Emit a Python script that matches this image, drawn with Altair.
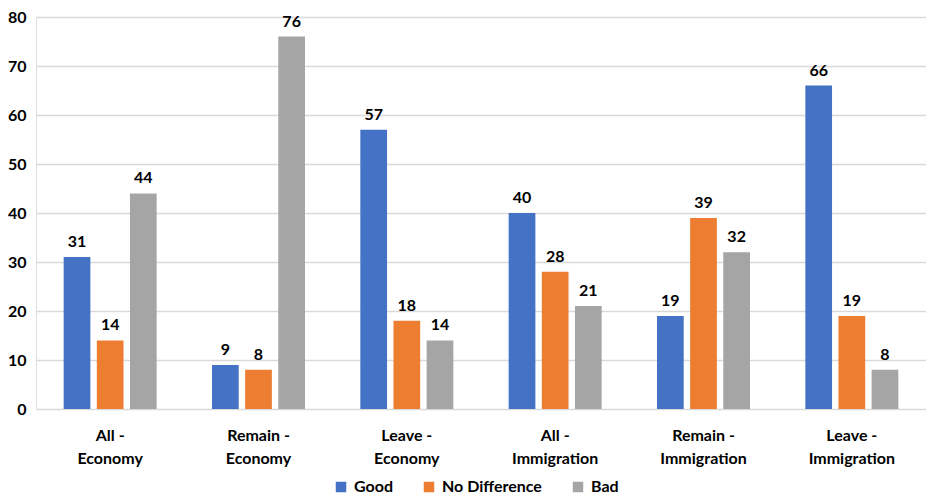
import altair as alt
import pandas as pd

categories = ["All - Economy", "Remain - Economy", "Leave - Economy",
              "All - Immigration", "Remain - Immigration", "Leave - Immigration"]
series = ["Good", "No Difference", "Bad"]
good = [31, 9, 57, 40, 19, 66]
no_diff = [14, 8, 18, 28, 39, 19]
bad = [44, 76, 14, 21, 32, 8]
colors = ["#4472C4", "#ED7D31", "#A5A5A5"]

rows = []
for i, c in enumerate(categories):
    for s, vals in zip(series, [good, no_diff, bad]):
        rows.append({"category": c, "series": s, "value": vals[i]})
df = pd.DataFrame(rows)

FONT = "Lato"
FS = 16

x = alt.X("category:N", sort=categories, title=None,
          scale=alt.Scale(paddingInner=0.373, paddingOuter=0.1865),
          axis=alt.Axis(labelAngle=0, domain=False, ticks=False, labelPadding=18,
                        labelFontSize=FS, labelFont=FONT, labelFontWeight="bold",
                        labelColor="#000000", labelLineHeight=23,
                        labelExpr="[split(datum.value, ' - ')[0] + ' -', split(datum.value, ' - ')[1]]"))
y = alt.Y("value:Q", title=None,
          scale=alt.Scale(domain=[0, 80], nice=False),
          axis=alt.Axis(values=[0, 10, 20, 30, 40, 50, 60, 70, 80], domain=False, ticks=False,
                        labelPadding=10, labelFontSize=FS, labelFont=FONT,
                        labelFontWeight="bold", labelColor="#000000",
                        gridColor="#d9d9d9", gridWidth=1.6))
xoff = alt.XOffset("series:N", sort=series,
                   scale=alt.Scale(paddingInner=0.194, paddingOuter=0))
color = alt.Color("series:N", sort=series,
                  scale=alt.Scale(domain=series, range=colors),
                  legend=alt.Legend(title=None, orient="none", direction="horizontal",
                                    legendX=297, legendY=462, symbolType="square",
                                    symbolSize=110, symbolStrokeWidth=0, labelFontSize=FS,
                                    labelFont=FONT, labelFontWeight="bold", labelColor="#000000",
                                    columnPadding=28, symbolOffset=0, labelOffset=5))

bars = alt.Chart(df).mark_bar(opacity=1).encode(x=x, y=y, xOffset=xoff, color=color)
labels = alt.Chart(df).mark_text(baseline="bottom", dy=-7, fontSize=FS, font=FONT,
                                 fontWeight="bold", color="#000000").encode(
    x=x, y=y, xOffset=xoff, text="value:Q")

chart = (bars + labels).properties(
    width=890, height=392,
    autosize=alt.AutoSizeParams(type="none"),
    padding={"left": 28, "top": 9, "right": 0, "bottom": 86},
).configure_view(stroke=None).configure(background="white")

chart.save("out.html", embed_options={"renderer": "svg", "actions": False})
